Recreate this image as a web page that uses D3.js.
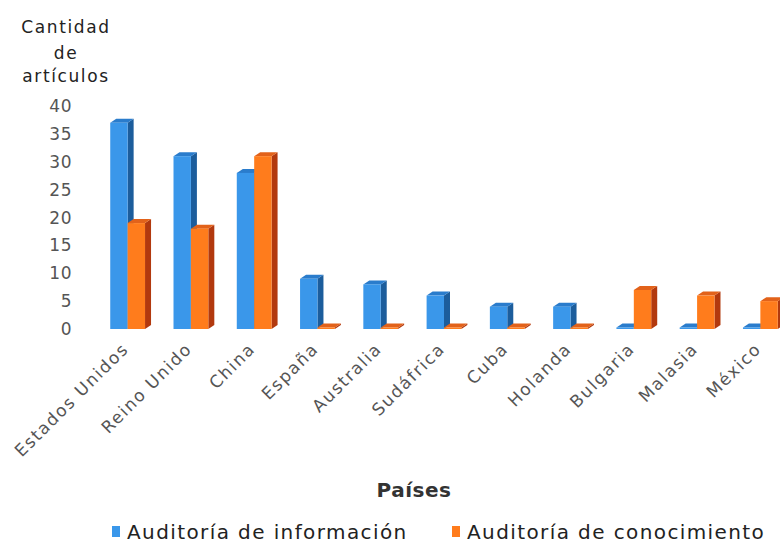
<!DOCTYPE html>
<html>
<head>
<meta charset="utf-8">
<script src="https://cdn.jsdelivr.net/npm/d3@7"></script>
<style>
  body { margin: 0; background: #fff; }
  svg text { font-family: 'DejaVu Sans', Verdana, sans-serif; fill: #555; }
</style>
</head>
<body>
<div id="chart"></div>
<script>
const paises = ['Estados Unidos', 'Reino Unido', 'China', 'España', 'Australia', 'Sudáfrica',
  'Cuba', 'Holanda', 'Bulgaria', 'Malasia', 'México'];
const series = ['Auditoría de información', 'Auditoría de conocimiento'];
const informacion = [37, 31, 28, 9, 8, 6, 4, 4, 0, 0, 0];
const conocimiento = [19, 18, 31, 0, 0, 0, 0, 0, 7, 6, 5];
const yTicks = [0, 5, 10, 15, 20, 25, 30, 35, 40];

const width = 780;
const height = 546;

// front, side, top colours for each series
const colors = [
  { front: '#3a97ea', side: '#1c5d9c', top: '#2a7ccc' },
  { front: '#ff7c1c', side: '#b2390e', top: '#e2621a' },
];
const depthX = 6;
const depthY = 4;

const svg = d3.select('#chart')
  .append('svg')
  .attr('width', width)
  .attr('height', height);

const x0 = d3.scaleBand()
  .domain(paises)
  .range([96, 792])
  .paddingInner(0.45)
  .paddingOuter(0.225);

const x1 = d3.scaleBand()
  .domain([0, 1])
  .range([0, x0.bandwidth()]);

const y = d3.scaleLinear()
  .domain([0, 40])
  .range([329, 106]);

// y tick labels
svg.append('g')
  .selectAll('text')
  .data(yTicks)
  .enter()
  .append('text')
  .attr('x', 72)
  .attr('y', d => y(d))
  .attr('dy', '0.36em')
  .attr('text-anchor', 'end')
  .style('font-size', '17px')
  .style('letter-spacing', '0.5px')
  .text(d => d);

// y axis title
svg.append('text')
  .attr('x', 66)
  .attr('y', 33)
  .attr('text-anchor', 'middle')
  .style('font-size', '17px')
  .style('letter-spacing', '1.6px')
  .style('fill', '#222')
  .selectAll('tspan')
  .data(['Cantidad', 'de', 'artículos'])
  .enter()
  .append('tspan')
  .attr('x', 66)
  .attr('dy', (d, i) => (i === 0 ? 0 : [0, 26, 23][i]))
  .text(d => d);

const rows = paises.map((p, i) => ({ pais: p, values: [informacion[i], conocimiento[i]] }));

const groups = svg.append('g')
  .selectAll('g')
  .data(rows)
  .enter()
  .append('g')
  .attr('transform', d => `translate(${x0(d.pais)},0)`);

groups.each(function (d) {
  const g = d3.select(this);
  d.values.forEach((v, s) => {
    const bx = x1(s);
    const bw = x1.bandwidth();
    const base = y(0);
    const top = Math.min(y(v), base - 1.5);
    const c = colors[s];
    // side face
    g.append('path')
      .attr('d', `M${bx + bw},${top} L${bx + bw + depthX},${top - depthY} L${bx + bw + depthX},${base - depthY} L${bx + bw},${base} Z`)
      .attr('fill', c.side);
    // top face
    g.append('path')
      .attr('d', `M${bx},${top} L${bx + depthX},${top - depthY} L${bx + bw + depthX},${top - depthY} L${bx + bw},${top} Z`)
      .attr('fill', c.top);
    // front face
    g.append('rect')
      .attr('x', bx)
      .attr('y', top)
      .attr('width', bw)
      .attr('height', base - top)
      .attr('fill', c.front);
  });
});

// x labels, rotated
svg.append('g')
  .selectAll('text')
  .data(paises)
  .enter()
  .append('text')
  .attr('transform', d => `translate(${x0(d) + x0.bandwidth() / 2 + 2},${350}) rotate(-45)`)
  .attr('text-anchor', 'end')
  .style('font-size', '17px')
  .style('letter-spacing', '1.6px')
  .text(d => d);

svg.append('text')
  .attr('x', 414)
  .attr('y', 497)
  .attr('text-anchor', 'middle')
  .style('font-size', '20px')
  .style('font-weight', 'bold')
  .style('letter-spacing', '0.5px')
  .style('fill', '#333')
  .text('Países');

// legend
const legendX = [112, 452];
const legend = svg.append('g')
  .selectAll('g')
  .data(series)
  .enter()
  .append('g')
  .attr('transform', (d, i) => `translate(${legendX[i]},532)`);

legend.append('rect')
  .attr('x', 0)
  .attr('y', -6)
  .attr('width', 8)
  .attr('height', 11)
  .attr('fill', (d, i) => colors[i].front);

legend.append('text')
  .attr('x', 15)
  .attr('y', 0)
  .attr('dy', '0.35em')
  .style('font-size', '20px')
  .style('letter-spacing', '1.4px')
  .style('fill', '#222')
  .text(d => d);
</script>
</body>
</html>
